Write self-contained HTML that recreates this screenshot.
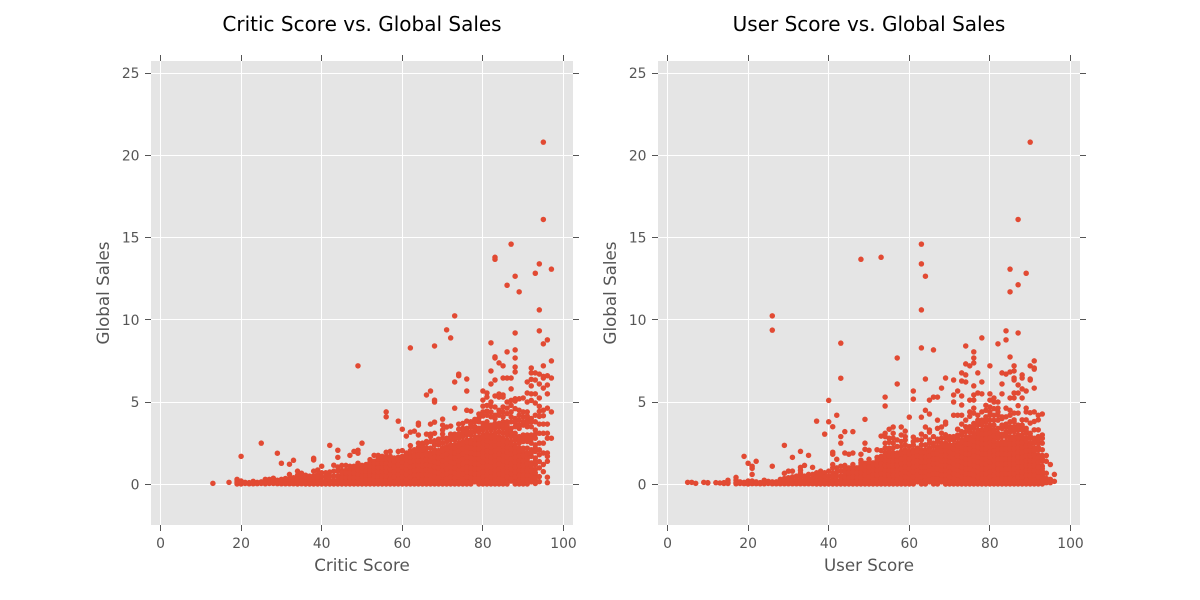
<!DOCTYPE html>
<html lang="en">
<head>
<meta charset="utf-8">
<title>Critic and User Score vs. Global Sales</title>
<style>
html,body{margin:0;padding:0;background:#fff;}
svg{display:block;}
text{font-family:"DejaVu Sans","Liberation Sans",sans-serif;}
</style>
</head>
<body>
<svg id="chart" xmlns="http://www.w3.org/2000/svg" width="1200" height="600" viewBox="0 0 1200 600">
  <rect x="0" y="0" width="1200" height="600" fill="#ffffff"/>
  <g id="critic-panel"></g>
  <g id="user-panel"></g>
</svg>
<script>
const xTicks = [0, 20, 40, 60, 80, 100];
const yTicks = [0, 5, 10, 15, 20, 25];
const criticScores = [13,17,19,20,21,22,23,24,25,26,27,28,29,30,31,32,33,34,35,36,37,38,39,40,41,42,43,44,45,46,47,48,49,50,51,52,53,54,55,56,57,58,59,60,61,62,63,64,65,66,67,68,69,70,71,72,73,74,75,76,77,78,79,80,81,82,83,84,85,86,87,88,89,90,91,92,93,94,95,96,97];
const criticSales = [
[.06],
[.12],
[.02,.1,.2,.3],
[1.7,.02,.12,.2],
[.12,.05],
[.1,.03],
[.18,.03,.1],
[.12,.04],
[2.5,.15,.05],
[.3,.15,.03],
[.3,.18,.05],
[.37,.2,.05],
[1.89,.25,.04],
[1.28,.3,.15,.03],
[.35,.15,.03],
[1.22,.6,.35,.15,.03],
[1.46,.4,.2,.03],
[.8,.55,.3,.12,.02],
[.67,.4,.2,.03],
[.55,.35,.15,.02],
[.5,.3,.12,.02],
[1.58,1.48,.8,.5,.3,.12,.02],
[.87,.6,.35,.15,.02],
[1.1,.7,.45,.2,.02],
[.7,.45,.2,.02],
[2.37,.75,.5,.25,.02],
[1.16,.8,.5,.25,.02],
[2.07,1.64,1.05,.8,.5,.25,.02],
[1.15,.85,.55,.3,.02],
[1.15,.85,.55,.3,.02],
[1.76,1.1,.85,.55,.3,.02],
[2,1.1,.85,.55,.3,.02],
[7.2,2.07,1.89,1.28,1,.75,.5,.25,.02],
[2.5,1.15,.9,.65,.4,.2,.02],
[1.2,.95,.7,.45,.2,.02],
[1.5,1.2,.95,.7,.45,.2,.02],
[1.76,1.4,1.15,.9,.65,.4,.2,.02],
[1.76,1.4,1.15,.9,.65,.4,.2,.02],
[1.7,1.4,1.15,.9,.65,.4,.2,.02],
[4.4,4.1,1.95,1.7,1.4,1.15,.9,.65,.4,.2,.02],
[2,1.7,1.35,1.05,.75,.45,.15],
[1.6,1.2,.9,.6,.3,.02],
[3.84,2,1.65,1.35,1.05,.75,.45,.15],
[3.35,2.05,1.7,1.5,1.2,.9,.6,.3,.02],
[2.93,1.9,1.6,1.35,1.05,.75,.45,.15],
[8.29,3.17,2.35,1.8,1.5,1.2,.9,.6,.3,.02],
[3.23,1.85,1.55,1.3,1,.7,.4,.15],
[3.72,3.6,3,2.5,2.25,1.9,1.6,1.3,1,.7,.4,.02],
[2.5,2.3,1.9,1.6,1.3,1,.7,.4,.15],
[5.43,3.05,2.5,2.2,1.95,1.65,1.35,1.05,.75,.45,.15,.02],
[5.67,3.66,3.05,2.6,2.2,1.9,1.6,1.3,1,.7,.4,.15],
[8.41,5.12,5,3.78,3.1,2.4,2.1,1.8,1.5,1.2,.9,.6,.3,.02],
[2.75,2.4,2.05,1.75,1.45,1.15,.85,.55,.25,.1],
[3.96,3.6,3.05,2.5,2.2,1.9,1.6,1.3,1,.7,.4,.02],
[9.39,3.48,2.6,2.3,2,1.7,1.4,1.1,.8,.5,.2],
[8.9,3.54,3.05,2.7,2.4,2.1,1.8,1.5,1.2,.9,.6,.3,.02],
[10.24,6.22,4.63,3.05,2.7,2.4,2.05,1.75,1.45,1.15,.85,.55,.25,.1],
[6.7,6.6,3.66,3.05,2.8,2.5,2.2,1.9,1.6,1.3,1,.7,.4,.02],
[3.4,2.9,2.6,2.3,2,1.7,1.4,1.1,.8,.5,.2],
[6.4,5.67,4.5,3.84,3.4,3,2.7,2.4,2.1,1.8,1.5,1.2,.9,.6,.3,.02],
[4.45,3.8,3.5,3,2.7,2.35,2.05,1.75,1.45,1.15,.85,.55,.25,.1],
[3.8,3.5,3.2,2.9,2.6,2.3,2,1.7,1.4,1.1,.8,.5,.2],
[4.27,3.8,3.2,2.9,2.6,2.3,2,1.7,1.4,1.1,.8,.5,.2,.02],
[5.67,5.12,4.75,4.15,3.7,3.3,3,2.7,2.4,2.1,1.8,1.5,1.2,.9,.6,.3,.02],
[5.55,5.3,4.8,4.45,3.8,3.4,3.1,2.8,2.5,2.2,1.9,1.6,1.3,1,.7,.4,.15],
[8.6,6.89,6.1,5,4.74,4.4,3.6,3.3,3,2.7,2.4,2.1,1.8,1.5,1.2,.9,.6,.3,.02],
[13.8,13.68,7.75,7.68,6.34,5.37,4,3.7,3.4,3.1,2.8,2.5,2.2,1.9,1.6,1.3,1,.7,.4,.15],
[7.38,5.49,5.3,4.5,4.2,3.5,3.2,2.9,2.6,2.3,2,1.7,1.4,1.1,.8,.5,.2,.02],
[7.2,6.46,5.43,5.3,4.4,3.8,3.4,3.1,2.8,2.5,2.2,1.9,1.6,1.3,1,.7,.4,.15],
[12.1,8.05,6.46,5,4.63,3.8,3.4,3,2.7,2.4,2.1,1.8,1.5,1.2,.9,.6,.3,.02],
[14.6,6.46,5.8,5.1,4.8,4.1,3.4,2.9,2.6,2.3,2,1.7,1.4,1.1,.8,.5,.2],
[12.65,9.2,8.17,7.68,7.13,6.83,5.2,5.06,4,3.5,3.1,2.7,2.4,2.1,1.8,1.5,1.2,.9,.6,.3,.02],
[11.7,5.2,4.2,3.9,3.4,2.9,2.5,2.2,1.9,1.6,1.3,1,.7,.4,.15],
[5.25,4.1,3.6,3,2.6,2.2,1.9,1.6,1.3,1,.7,.4,.15,.02],
[6.22,5.55,5,4.4,3.9,3.5,3,2.6,2.2,1.7,1.4,1.1,.8,.5,.2],
[7.07,6.77,6.38,5.98,5.5,5.1,4,3.5,3,2.5,2.1,1.7,1.3,1,.7,.4,.15],
[12.83,6.77,6.34,5.5,4.94,4.2,3.8,3.3,2.8,2.4,2,1.6,1.2,.9,.55,.25,.05],
[13.4,10.6,9.33,6.7,6.1,5.25,4.74,4.43,4.13,3.66,3.1,2.5,2.1,1.8,1.38,1,.47,.16],
[20.8,16.1,8.54,7.2,6.56,6.46,5.85,4.5,4.17,3.66,3.1,2.5,1.9,1.2,.77],
[8.78,6.6,6.04,5.5,4.63,3.66,3.1,2.8,1.9,1.7,1.4,.43,.1],
[13.08,7.5,6.46,4.4,2.8]
];
const criticCoreScores = [45,46,47,48,49,50,51,52,53,54,55,56,57,58,59,60,61,62,63,64,65,66,67,68,69,70,71,72,73,74,75,76,77,78,79,80,81,82,83,84,85,86,87,88,89,90,91,92,93];
const criticCoreSales = [
[.15,.42,.7],
[.15,.42,.7],
[.15,.42,.7,.98],
[.15,.42,.7,.98],
[.12,.38,.62,.88],
[.1,.3,.52,.78,1.02],
[.1,.32,.58,.82,1.08],
[.1,.32,.58,.82,1.08,1.35],
[.1,.3,.52,.78,1.02,1.28],
[.1,.3,.52,.78,1.02,1.28,1.55],
[.1,.3,.52,.78,1.02,1.28,1.55],
[.1,.3,.52,.78,1.02,1.28,1.55],
[.02,.3,.6,.9,1.2,1.5],
[.15,.45,.75,1.05,1.4],
[.02,.3,.6,.9,1.2,1.5],
[.15,.45,.75,1.05,1.35,1.6],
[.02,.3,.6,.9,1.2,1.5,1.75],
[.15,.45,.75,1.05,1.35,1.65,2.05],
[.02,.25,.55,.85,1.15,1.45,1.7,2.1],
[.15,.55,.85,1.15,1.45,1.75,2.1],
[.02,.25,.55,.85,1.15,1.45,1.75,2.1],
[.3,.6,.9,1.2,1.5,1.8,2.6],
[.02,.28,.55,.85,1.15,1.45,1.75,2.9],
[.15,.45,.75,1.05,1.35,1.65,1.95,2.65],
[.02,.4,.7,1,1.3,1.6,1.9,2.6],
[.15,.55,.85,1.15,1.45,1.75,2.05,2.8,3.3],
[.02,.35,.65,.95,1.25,1.55,1.85,2.15,2.8],
[.15,.45,.75,1.05,1.35,1.65,1.95,2.25,2.9],
[.02,.4,.7,1,1.3,1.6,1.9,2.2,2.85],
[.15,.55,.85,1.15,1.45,1.75,2.05,2.35,3.35],
[.02,.35,.65,.95,1.25,1.55,1.85,2.15,2.45,3.15,3.7],
[.15,.45,.75,1.05,1.35,1.65,1.95,2.25,2.55,3.2],
[.02,.4,.7,1,1.3,1.6,1.9,2.2,2.5,3.2,3.65],
[.15,.35,.65,.95,1.25,1.55,1.85,2.15,2.45,2.75,3.35,3.95],
[.35,.65,.95,1.25,1.55,1.85,2.15,2.45,2.75,3.41,4.02],
[.15,.45,.75,1.05,1.35,1.65,1.95,2.25,2.55,2.85,3.5,4.4],
[.02,.3,.55,.85,1.15,1.45,1.75,2.05,2.35,2.65,2.95,3.6,4.2],
[.15,.45,.75,1.05,1.35,1.65,1.95,2.25,2.55,2.85,3.5,4.1],
[.02,.3,.55,.85,1.15,1.45,1.75,2.05,2.35,2.65,2.95,3.55,4.2,4.7],
[.35,.65,.95,1.25,1.55,1.85,2.15,2.45,2.75,3.7,4.3],
[.02,.25,.55,.85,1.15,1.45,1.75,2.05,2.35,2.65,3.6,4.1,4.7],
[.15,.45,.75,1.05,1.35,1.65,1.95,2.25,2.55,3.2,3.6,4.3],
[.35,.65,.95,1.25,1.55,1.85,2.15,2.45,3.15,3.8,4.4],
[.15,.45,.75,1.05,1.35,1.65,1.95,2.25,2.9,3.75,4.6],
[.02,.25,.55,.85,1.15,1.45,1.75,2.05,2.7,3.6,4.5],
[.3,.55,.85,1.15,1.45,1.75,2.05,2.8,3.8,4.4],
[.02,.25,.55,.85,1.25,1.55,1.9,2.8,3.7,4.15],
[.3,.55,.85,1.15,1.9,2.75,3.8],
[.1,.4,.7,1.4,2.2,3.05]
];
const userScores = [5,6,7,9,10,12,13,14,15,17,18,19,20,21,22,23,24,25,26,27,28,29,30,31,32,33,34,35,36,37,38,39,40,41,42,43,44,45,46,47,48,49,50,51,52,53,54,55,56,57,58,59,60,61,62,63,64,65,66,67,68,69,70,71,72,73,74,75,76,77,78,79,80,81,82,83,84,85,86,87,88,89,90,91,92,93,94,95,96];
const userSales = [
[.12],
[.12],
[.06],
[.12],
[.1,.08],
[.1],
[.08],
[.1,.05],
[.25,.12,.05],
[.42,.25,.1,.03],
[.15,.05],
[1.7,.12,.04],
[1.28,.2,.1,.02],
[1.1,.97,.6,.2,.04],
[1.4,.15,.04],
[.1,.03],
[.25,.1,.03],
[.18,.05],
[10.24,9.37,1.1,.15,.03],
[.15,.03],
[.3,.12,.03],
[2.37,.67,.35,.15,.03],
[.8,.4,.18,.03],
[1.64,.8,.45,.2,.03],
[.5,.25,.03],
[2,1.03,.85,.67,.45,.2,.03],
[1.15,.5,.25,.03],
[1.76,.6,.35,.15,.03],
[1.03,.6,.35,.15,.03],
[3.84,.7,.45,.2,.02],
[.8,.55,.3,.1,.02],
[3.05,.7,.45,.2,.02],
[5.1,3.8,.8,.5,.25,.02],
[3.5,1.95,1.83,1.2,1,.7,.45,.2,.02],
[4.2,1.52,1,.75,.5,.25,.02],
[8.58,6.45,2.9,2.5,1.1,.8,.5,.25,.02],
[3.2,1.9,1.15,.85,.55,.3,.02],
[1.83,1,.75,.5,.25,.02],
[3.2,1.9,1.2,.9,.6,.3,.02],
[1,.75,.5,.25,.02],
[13.68,1.83,1.46,1.15,.85,.55,.3,.02],
[3.95,2.5,2.13,1.28,1,.7,.45,.2,.02],
[2.07,1.52,1.2,.9,.6,.3,.02],
[1.3,1,.7,.45,.2,.02],
[2.1,1.64,1.3,1,.7,.4,.15],
[13.8,2.93,1.7,1.4,1.1,.8,.5,.2,.02],
[5.3,4.76,3.1,2.5,2.2,1.9,1.6,1.3,1,.7,.4,.15],
[3.35,2.55,2.2,1.9,1.6,1.3,1,.7,.4,.15,.02],
[3.48,2.8,2.2,1.9,1.6,1.3,1,.7,.4,.15],
[7.68,6.1,2.7,2.3,1.9,1.6,1.3,1,.7,.4,.15,.02],
[3.48,3,2.3,2,1.7,1.4,1.1,.8,.5,.2],
[3.23,2.7,2.4,2.1,1.8,1.5,1.2,.9,.6,.3,.02],
[4.08,2.3,2,1.7,1.4,1.1,.8,.5,.2],
[5.67,5.18,2.87,2.4,2.1,1.8,1.5,1.2,.9,.6,.3,.02],
[2.2,1.9,1.6,1.3,1,.7,.4,.15],
[14.6,13.4,10.6,8.29,4.08,3.05,2.4,2.1,1.8,1.5,1.2,.9,.6,.3,.02],
[12.65,6.4,4.5,3.48,2.4,2.1,1.8,1.5,1.2,.9,.6,.3,.15],
[5.12,4.27,3.17,2.5,2.2,1.9,1.6,1.3,1,.7,.4,.15],
[8.17,5.3,2.3,2,1.7,1.4,1.1,.8,.5,.2,.02],
[5.3,3.9,3.4,2.6,2.3,2,1.7,1.4,1.1,.8,.5,.2],
[5.85,3.48,2.8,2.5,2.2,1.9,1.6,1.3,1,.7,.4,.15],
[6.46,3.78,3.66,2.8,2.5,2.2,1.9,1.6,1.3,1,.7,.4,.15,.02],
[2.7,2.4,2.1,1.8,1.5,1.2,.9,.6,.3,.02],
[6.34,5.43,5,4.2,2.7,2.4,2.1,1.8,1.5,1.2,.9,.6,.3,.02],
[5.67,4.2,3.35,2.8,2.5,2.2,1.9,1.6,1.3,1,.7,.4,.15],
[6.77,6.28,5.37,4.82,4.2,3,2.7,2.4,2.1,1.8,1.5,1.2,.9,.6,.3,.02],
[8.41,7.32,6.65,6.22,3.2,2.9,2.6,2.3,2,1.7,1.4,1.1,.8,.5,.2],
[7.2,5.12,4.4,3.5,3.2,2.9,2.6,2.3,2,1.7,1.4,1.1,.8,.5,.2,.02],
[8.05,7.68,7.38,5.98,5.43,5.12,4.63,3.7,3.4,3.1,2.8,2.5,2.2,1.9,1.6,1.3,1,.7,.4,.15],
[6.77,5.55,3.9,3.6,3.3,3,2.7,2.4,2.1,1.8,1.5,1.2,.9,.6,.3,.02],
[8.9,6.22,5.5,3.9,3.6,3.3,3,2.7,2.4,2.1,1.8,1.5,1.2,.9,.6,.3,.15],
[4.5,4.1,3.8,3.5,3.2,2.9,2.6,2.3,2,1.7,1.4,1.1,.8,.5,.2,.02],
[7.2,5.5,5.12,4.2,3.9,3.6,3.3,3,2.7,2.4,2.1,1.8,1.5,1.2,.9,.6,.3,.02],
[5.25,5,3.9,3.6,3.3,3,2.7,2.4,2.1,1.8,1.5,1.2,.9,.6,.3,.15],
[8.54,5,4.63,4.4,3.4,3.1,2.8,2.5,2.2,1.9,1.6,1.3,1,.7,.4,.02],
[6.77,6.1,5.5,4,3.4,2.9,2.6,2.3,2,1.7,1.4,1.1,.8,.5,.2],
[9.33,8.78,6.7,4.63,3.5,3.2,2.9,2.6,2.3,2,1.7,1.4,1.1,.8,.5,.2,.02],
[13.08,11.7,7.74,6.83,5.25,4.5,3.8,3.5,3.2,2.9,2.6,2.3,2,1.7,1.4,1.1,.8,.5,.2],
[7.2,6.89,6.46,6.34,5.55,5.25,3.8,3.5,3.2,2.9,2.6,2.3,2,1.7,1.4,1.1,.8,.5,.2,.02],
[16.1,12.13,9.2,6.04,5.55,4.78,3.6,3.3,3,2.7,2.4,2.1,1.8,1.5,1.2,.9,.6,.3,.15],
[6.65,6.46,5.8,5.25,3.6,3.3,3,2.7,2.4,2.1,1.8,1.5,1.2,.9,.6,.3,.02],
[12.83,5.67,4.63,4.4,3.4,3.1,2.8,2.5,2.2,1.9,1.6,1.3,1,.7,.4,.15],
[20.8,7.2,6.4,6.34,4.35,3.1,2.8,2.5,2.2,1.9,1.6,1.3,1,.7,.4,.02],
[7.5,7.07,7,5.85,4.4,2.8,2.5,2.2,1.9,1.6,1.3,1,.7,.4,.15],
[4.2,2.9,2.5,2.1,1.8,1.5,1.2,.9,.6,.3,.02],
[4.27,2.8,2.1,1.75,1.4,1.1,.8,.5,.2],
[1.75,1.4,.67,.35,.1],
[1.2,.3,.1],
[.6,.18]
];
const userCoreScores = [44,45,46,47,48,49,50,51,52,53,54,55,56,57,58,59,60,61,62,63,64,65,66,67,68,69,70,71,72,73,74,75,76,77,78,79,80,81,82,83,84,85,86,87,88,89,90,91,92,93];
const userCoreSales = [
[.15,.42,.7,.98],
[.15,.42,.7],
[.15,.45,.75,1.05],
[.15,.42,.7,.98],
[.15,.45,.72,1,1.3],
[.1,.32,.58,.85,1.15],
[.15,.45,.75,1.05,1.35],
[.1,.32,.58,.85,1.15],
[.02,.25,.55,.85,1.15,1.45],
[.35,.65,.95,1.25,1.55,2.05],
[.02,.25,.55,.85,1.15,1.45,1.75,2.9],
[.3,.55,.85,1.15,1.45,1.75,2.05,2.8],
[.02,.25,.55,.85,1.15,1.45,1.75,2.5,3.1],
[.3,.55,.85,1.15,1.45,1.75],
[.02,.35,.65,.95,1.25,1.55,1.85,2.6],
[.15,.45,.75,1.05,1.35,1.65,1.95,2.9],
[.02,.35,.65,.95,1.25,1.55,1.85],
[.15,.45,.75,1.05,1.35,1.65,1.95,2.6],
[.3,.55,.85,1.15,1.45,1.75,2.05,2.7],
[.15,.45,.75,1.05,1.35,1.65,1.95,2.7],
[.02,.25,.45,.75,1.05,1.35,1.65,1.95,2.9],
[.3,.55,.85,1.15,1.45,1.75,2.05,2.7,3.3],
[.15,.35,.65,.95,1.25,1.55,1.85,2.5,2.9],
[.02,.35,.65,.95,1.25,1.55,1.85,2.15,2.75],
[.3,.55,.85,1.15,1.45,1.75,2.05,2.35,3.11],
[.02,.25,.55,.85,1.15,1.45,1.75,2.05,2.35,3.01],
[.15,.45,.75,1.05,1.35,1.65,1.95,2.25,2.9],
[.15,.35,.65,.95,1.25,1.55,1.85,2.15,2.9],
[.02,.25,.55,.85,1.15,1.45,1.75,2.05,2.35,3,3.35],
[.15,.45,.75,1.05,1.35,1.65,1.95,2.25,2.55,3.2,3.66],
[.02,.35,.65,.95,1.25,1.55,1.85,2.15,2.45,2.75,3.5,3.9],
[.3,.65,.95,1.25,1.55,1.85,2.15,2.45,2.75,3.35,4.13],
[.02,.25,.55,.85,1.15,1.45,1.75,2.05,2.35,2.65,2.95,3.55,4.33],
[.15,.45,.75,1.05,1.35,1.65,1.95,2.25,2.55,2.85,3.15,3.75,4.2],
[.02,.35,.65,.95,1.25,1.55,1.85,2.15,2.45,2.75,3.05,3.75,4.4],
[.3,.65,.95,1.25,1.55,1.85,2.15,2.45,2.75,3.05,3.35,3.95,4.8],
[.15,.45,.75,1.05,1.35,1.65,1.95,2.25,2.55,2.85,3.15,3.45,4.4,4.7],
[.02,.3,.55,.85,1.15,1.45,1.75,2.05,2.35,2.65,2.95,3.25,4.2,4.6],
[.15,.35,.65,.95,1.25,1.55,1.85,2.15,2.45,3.05,3.9,4.2],
[.02,.35,.65,.95,1.25,1.55,1.85,2.15,2.45,3.05,3.6,4.1],
[.3,.65,.95,1.25,1.55,1.85,2.15,2.45,3.05,3.66,4.1],
[.02,.35,.65,.95,1.25,1.55,1.85,2.15,2.45,2.75,3.35,4.2],
[.3,.65,.95,1.25,1.55,1.85,2.15,2.45,2.75,3.35,3.92,4.33],
[.02,.45,.75,1.05,1.35,1.65,1.95,2.25,2.55,2.85,3.45,4.33],
[.15,.45,.75,1.05,1.35,1.65,1.95,2.25,2.55,2.85,3.45,3.92],
[.02,.25,.55,.85,1.15,1.45,1.75,2.05,2.35,2.65,3.25,3.92],
[.15,.55,.85,1.15,1.45,1.75,2.05,2.35,2.95,3.72],
[.02,.25,.55,.85,1.15,1.45,1.75,2.05,2.65,3.31,3.82],
[.15,.45,.75,1.05,1.35,1.65,2.25,2.7,3.31,3.92],
[.02,.35,.65,.95,1.55,2.5,3]
];

const SVG_NS = 'http://www.w3.org/2000/svg';
const TOP = 61, BOTTOM = 525, WIDTH = 422;
const INK = '#555555', DOT = '#E24A33';

function make(tag, attrs, parent) {
  const el = document.createElementNS(SVG_NS, tag);
  for (const k in attrs) el.setAttribute(k, attrs[k]);
  parent.appendChild(el);
  return el;
}

function yScale(v) { return 484.3 - 16.45 * v; }
function snap(p) { return Math.floor(p) + 0.5; }

function drawPanel(root, left, title, xLabel, scores, sales) {
  const x0 = left + 9.5;
  const xScale = v => x0 + 4.03 * v;
  const right = left + WIDTH;

  const bg = make('rect', {x: left, y: TOP, width: WIDTH, height: BOTTOM - TOP, fill: '#E5E5E5'}, root);
  
  

  xTicks.forEach(t => {
    const px = snap(xScale(t));
    const grid = make('line', {x1: px, x2: px, y1: TOP, y2: BOTTOM, stroke: '#ffffff', 'stroke-width': 1}, root);
    
    
    const tickTop = make('line', {x1: px, x2: px, y1: TOP - 6, y2: TOP, stroke: INK, 'stroke-width': 1}, root);
    
    
    const tickBottom = make('line', {x1: px, x2: px, y1: BOTTOM, y2: BOTTOM + 6, stroke: INK, 'stroke-width': 1}, root);
    
    
    const label = make('text', {x: xScale(t), y: 548, 'text-anchor': 'middle', 'font-size': 13.9, fill: INK}, root);
    
    
    label.textContent = t;
  });

  yTicks.forEach(t => {
    const py = snap(yScale(t));
    const grid = make('line', {x1: left, x2: right, y1: py, y2: py, stroke: '#ffffff', 'stroke-width': 1}, root);
    
    
    const tickLeft = make('line', {x1: left - 6, x2: left, y1: py, y2: py, stroke: INK, 'stroke-width': 1}, root);
    
    
    const tickRight = make('line', {x1: right, x2: right + 6, y1: py, y2: py, stroke: INK, 'stroke-width': 1}, root);
    
    
    const label = make('text', {x: left - 11.5, y: yScale(t) + 5, 'text-anchor': 'end', 'font-size': 13.9, fill: INK}, root);
    
    
    label.textContent = t;
  });

  const series = make('g', {fill: DOT}, root);
  
  
  scores.forEach((score, i) => {
    sales[i].forEach(value => {
      const dot = make('circle', {cx: xScale(score), cy: yScale(value), r: 2.75}, series);
      
      
    });
  });

  const cx = left + WIDTH / 2;
  const titleEl = make('text', {x: cx, y: 31, 'text-anchor': 'middle', 'font-size': 20, fill: '#000000'}, root);
  
  
  titleEl.textContent = title;

  const xTitle = make('text', {x: cx, y: 571, 'text-anchor': 'middle', 'font-size': 16.7, fill: INK}, root);
  
  
  xTitle.textContent = xLabel;

  const yTitle = make('text', {x: 0, y: 0, 'text-anchor': 'middle', 'font-size': 16.7, fill: INK, transform: 'translate(' + (left - 42) + ',293) rotate(-90)'}, root);
  
  
  yTitle.textContent = 'Global Sales';
}

drawPanel(document.getElementById('critic-panel'), 151, 'Critic Score vs. Global Sales', 'Critic Score', criticScores.concat(criticCoreScores), criticSales.concat(criticCoreSales));
drawPanel(document.getElementById('user-panel'), 658, 'User Score vs. Global Sales', 'User Score', userScores.concat(userCoreScores), userSales.concat(userCoreSales));
</script>
</body>
</html>
